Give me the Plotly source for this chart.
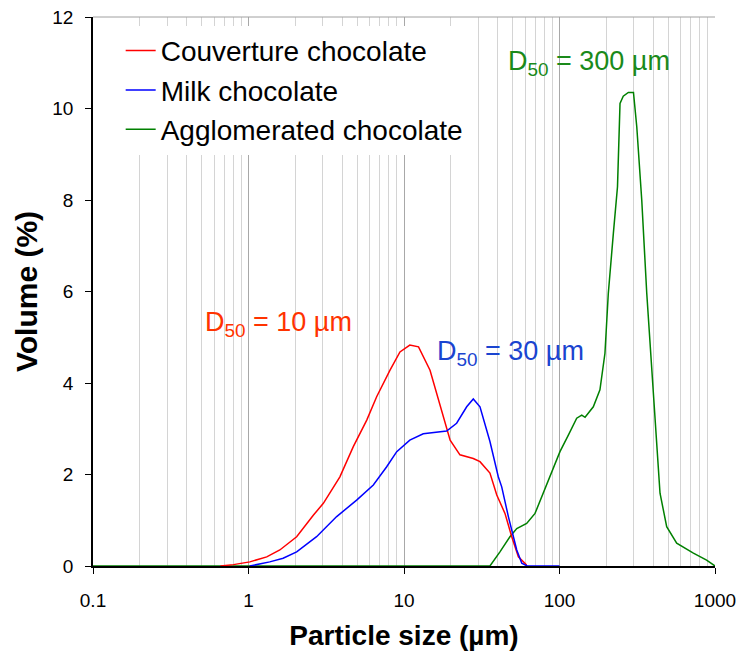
import math
import plotly.graph_objects as go

# Couverture chocolate
red_x = [0.66, 0.8, 1.02, 1.31, 1.59, 2.04, 2.61, 3.03, 3.87, 4.72, 5.76, 6.67, 8.13, 9.42, 10.9, 12.4,
         14.7, 17.1, 19.8, 22.9, 27.9, 30.8, 34.0, 35.7, 39.5, 44.6, 49.3, 54.4, 61.5]
red_y = [0, 0.03, 0.09, 0.20, 0.35, 0.64, 1.11, 1.37, 1.95, 2.61, 3.19, 3.70, 4.28, 4.68, 4.83, 4.79,
         4.28, 3.48, 2.75, 2.43, 2.35, 2.28, 2.12, 2.03, 1.55, 1.15, 0.64, 0.20, 0.02]

# Milk chocolate
blue_x = [1.02, 1.37, 1.67, 2.04, 2.74, 3.69, 4.96, 6.35, 7.74, 8.98, 10.9, 13.3, 18.8, 21.8, 25.3,
          27.9, 30.8, 35.7, 40.4, 42.5, 46.9, 53.1, 57.2, 62, 100]
blue_y = [0, 0.09, 0.17, 0.31, 0.64, 1.08, 1.44, 1.77, 2.17, 2.50, 2.75, 2.89, 2.95, 3.12, 3.48,
          3.65, 3.48, 2.72, 1.95, 1.73, 1.08, 0.35, 0.06, 0, 0]

# Agglomerated chocolate
green_x = [0.1, 35.7, 41.4, 48.0, 53.1, 61.5, 69.6, 78.7, 89.1, 100.7, 114, 129, 139, 146, 165, 182,
           196, 206, 222, 236, 245, 257, 277, 299, 314, 338, 364, 402, 443, 489, 567, 726, 883, 1000]
green_y = [0, 0, 0.31, 0.64, 0.82, 0.93, 1.15, 1.59, 2.03, 2.50, 2.86, 3.23, 3.30, 3.25, 3.48, 3.85,
           4.65, 5.96, 7.27, 8.29, 10.11, 10.27, 10.35, 10.35, 9.60, 8.0, 5.96, 3.77, 1.59, 0.86,
           0.50, 0.28, 0.13, 0]

x_ticks = [0.1, 1, 10, 100, 1000]
x_tick_labels = ["0.1", "1", "10", "100", "1000"]
y_ticks = [0, 2, 4, 6, 8, 10, 12]
minor_vals = [m * 10 ** e for e in range(-1, 3) for m in range(2, 10)]

# D50 labels: (x position in µm, y baseline in %, text, colour)
d50_labels = [
    (0.525, 5.09, "D<sub>50</sub> = 10 µm", "#ff3300"),
    (16.3, 4.46, "D<sub>50</sub> = 30 µm", "#1a44d0"),
    (46.7, 10.80, "D<sub>50</sub> = 300 µm", "#1a8a1a"),
]

FONT = "Liberation Sans, Arial, sans-serif"

fig = go.Figure()
fig.add_trace(go.Scatter(x=green_x, y=green_y, mode="lines", name="Agglomerated chocolate",
                         line=dict(color="#008000", width=1.5), legendrank=3))
fig.add_trace(go.Scatter(x=red_x, y=red_y, mode="lines", name="Couverture chocolate",
                         line=dict(color="#ff0000", width=1.5), legendrank=1))
fig.add_trace(go.Scatter(x=blue_x, y=blue_y, mode="lines", name="Milk chocolate",
                         line=dict(color="#0000ff", width=1.5), legendrank=2))

for ax, ay, txt, col in d50_labels:
    fig.add_annotation(x=math.log10(ax), y=ay, xref="x", yref="y", text=txt, showarrow=False,
                       xanchor="left", yanchor="bottom", xshift=-2, yshift=-10,
                       font=dict(size=27, color=col, family=FONT))

fig.add_shape(type="line", xref="paper", yref="paper", x0=0, x1=1, y0=1, y1=1,
              line=dict(color="#a0a0a0", width=1))

fig.update_layout(
    width=745, height=649,
    margin=dict(l=85, r=38, t=9, b=91),
    plot_bgcolor="white", paper_bgcolor="white",
    font=dict(family=FONT, color="black"),
    showlegend=True,
    legend=dict(x=0.0445, y=0.984, xanchor="left", yanchor="top", bgcolor="white",
                font=dict(size=28, family=FONT, color="black"),
                borderwidth=0, tracegroupgap=0),
    xaxis=dict(type="log", range=[-1, 3], tickvals=x_ticks, ticktext=x_tick_labels,
               showline=True, linecolor="black", linewidth=1.5, ticks="outside",
               ticklen=6, tickcolor="black", tickfont=dict(size=19),
               ticklabelstandoff=10, automargin=False, ticklabeloverflow="allow",
               showgrid=True, gridcolor="#a8a8a8", gridwidth=1,
               minor=dict(tickvals=minor_vals, showgrid=True, gridcolor="#d4d4d4", gridwidth=1, ticks=""),
               zeroline=False,
               title=dict(text="<b>Particle size (µm)</b>", font=dict(size=28), standoff=16)),
    yaxis=dict(range=[0, 12], tickvals=y_ticks, showline=True, linecolor="black", linewidth=1.5,
               ticks="outside", ticklen=6, tickcolor="black", tickfont=dict(size=19),
               ticklabelstandoff=8, showgrid=False, zeroline=False, automargin=False,
               ticklabeloverflow="allow",
               title=dict(text="<b>Volume (%)</b>", font=dict(size=30), standoff=6)),
)

fig.write_html("out.html")
